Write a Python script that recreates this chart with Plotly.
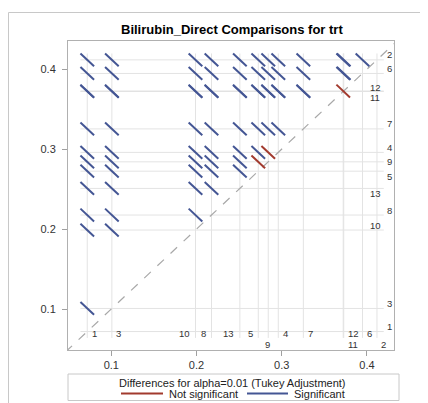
import plotly.graph_objects as go

# LS-means per trt level (sorted by mean)
groups = ['1', '3', '10', '8', '13', '5', '9', '4', '7', '11', '12', '6', '2']
lsmeans = [0.0718, 0.1007, 0.1988, 0.2176, 0.2509, 0.2725, 0.2842, 0.2960,
           0.3254, 0.3722, 0.3728, 0.3948, 0.4118]
ci_width = 0.016          # width of the Tukey interval for a difference
not_significant = [('11', '12'), ('5', '9'), ('9', '4')]

BLUE = '#445694'
RED = '#a23a2e'
FONT = 'Liberation Sans, Arial, sans-serif'

# page puts the figure 8px in from the top-left corner
OFF = 8
W, H = 428 - OFF, 403 - OFF
# pixel frame of the plot area, in window pixels
L, R, T, B = 68, 394, 41, 350


def paper_x(px):
    return (px - L) / (R - L)


def paper_y(py):
    return (B - py) / (B - T)


h = ci_width / 2
mean_of = dict(zip(groups, lsmeans))

sig_x, sig_y, ns_x, ns_y = [], [], [], []
for i in range(len(groups)):
    for j in range(i + 1, len(groups)):
        lo, hi = lsmeans[i], lsmeans[j]
        xs = [lo - h, lo + h, None]
        ys = [hi + h, hi - h, None]
        pair = (groups[i], groups[j])
        if pair in not_significant or pair[::-1] in not_significant:
            ns_x += xs
            ns_y += ys
        else:
            sig_x += xs
            sig_y += ys

fig = go.Figure()

# reference lines at each mean
lo_ref, hi_ref = min(lsmeans) - h, max(lsmeans) + h
for m in lsmeans:
    fig.add_shape(type='line', xref='x', yref='y', x0=m, x1=m, y0=lo_ref, y1=hi_ref,
                  line=dict(color='#e3e3e3', width=1), layer='below')
    fig.add_shape(type='line', xref='x', yref='y', x0=lo_ref, x1=hi_ref, y0=m, y1=m,
                  line=dict(color='#e3e3e3', width=1), layer='below')

# diagonal y = x
fig.add_trace(go.Scatter(x=[0, 1], y=[0, 1], mode='lines', hoverinfo='skip',
                         line=dict(color='#a8a8a8', width=1.2, dash='dash'),
                         showlegend=False))

fig.add_trace(go.Scatter(x=sig_x, y=sig_y, mode='lines', name='Significant',
                         line=dict(color=BLUE, width=2), showlegend=False))
fig.add_trace(go.Scatter(x=ns_x, y=ns_y, mode='lines', name='Not significant',
                         line=dict(color=RED, width=2), showlegend=False))

# labels along the bottom: side of the reference line and row
bottom_pos = {'1': ('r', 1), '3': ('r', 1), '10': ('l', 1), '8': ('l', 1),
              '13': ('l', 1), '5': ('l', 1), '9': ('c', 2), '4': ('r', 1),
              '7': ('r', 1), '12': ('r', 1), '11': ('r', 2), '6': ('r', 1),
              '2': ('r', 2)}
row_y = {1: paper_y(333.5), 2: paper_y(344.7)}
for g in groups:
    side, row = bottom_pos[g]
    anchor = {'r': 'left', 'l': 'right', 'c': 'center'}[side]
    shift = {'r': 2.5, 'l': -3.5, 'c': -1}[side]
    fig.add_annotation(x=mean_of[g], y=row_y[row], xref='x', yref='paper', text=g,
                       showarrow=False, xanchor=anchor, yanchor='middle', xshift=shift,
                       font=dict(size=9.5, color='#333333', family=FONT))

# labels along the right side
right_shift = {'2': 5.7, '6': 5, '12': 4, '11': -6, '7': 5, '4': 5, '9': 0,
               '5': -5, '13': -5, '8': 5, '10': 5, '3': 5, '1': 5}
for g in groups:
    px = 389 if len(g) == 1 else 375
    fig.add_annotation(x=paper_x(px), y=mean_of[g], xref='paper', yref='y', text=g,
                       showarrow=False, xanchor='center', yanchor='middle',
                       yshift=right_shift[g],
                       font=dict(size=9.5, color='#333333', family=FONT))

# title
fig.add_annotation(x=paper_x(232), y=paper_y(29), xref='paper', yref='paper',
                   text='<b>Bilirubin_Direct Comparisons for trt</b>', showarrow=False,
                   xanchor='center', yanchor='middle',
                   font=dict(size=13, color='#000000', family=FONT))

# outer graph border
fig.add_shape(type='rect', xref='paper', yref='paper', x0=paper_x(8.5), x1=paper_x(440),
              y0=paper_y(420), y1=paper_y(12.5), line=dict(color='#c8c8c8', width=1))

# legend box drawn by hand
fig.add_shape(type='rect', xref='paper', yref='paper', x0=paper_x(68), x1=paper_x(399),
              y0=paper_y(400.5), y1=paper_y(374), line=dict(color='#c8c8c8', width=1))
fig.add_annotation(x=paper_x(232), y=paper_y(382.5), xref='paper', yref='paper',
                   text='Differences for alpha=0.01 (Tukey Adjustment)', showarrow=False,
                   xanchor='center', yanchor='middle',
                   font=dict(size=11, color='#222222', family=FONT))
fig.add_shape(type='line', xref='paper', yref='paper', x0=paper_x(121), x1=paper_x(163),
              y0=paper_y(393.5), y1=paper_y(393.5), line=dict(color=RED, width=2))
fig.add_annotation(x=paper_x(167), y=paper_y(393.5), xref='paper', yref='paper',
                   text='Not significant', showarrow=False, xanchor='left', yanchor='middle',
                   font=dict(size=11, color='#222222', family=FONT))
fig.add_shape(type='line', xref='paper', yref='paper', x0=paper_x(247), x1=paper_x(288),
              y0=paper_y(393.5), y1=paper_y(393.5), line=dict(color=BLUE, width=2))
fig.add_annotation(x=paper_x(292), y=paper_y(393.5), xref='paper', yref='paper',
                   text='Significant', showarrow=False, xanchor='left', yanchor='middle',
                   font=dict(size=11, color='#222222', family=FONT))

axis_style = dict(showgrid=False, zeroline=False, showline=True, mirror=True,
                  linecolor='#b0b0b0', linewidth=1, ticks='outside', ticklen=5,
                  tickcolor='#a0a0a0', tickvals=[0.1, 0.2, 0.3, 0.4],
                  ticktext=['0.1', '0.2', '0.3', '0.4'],
                  tickfont=dict(size=11, color='#333333', family=FONT))

fig.update_layout(
    width=W, height=H,
    margin=dict(l=L - OFF, r=428 - R, t=T - OFF, b=403 - B),
    plot_bgcolor='white', paper_bgcolor='white',
    xaxis=dict(range=[0.0492, 0.4318], **axis_style),
    yaxis=dict(range=[0.0487, 0.4354], ticklabelstandoff=4, **axis_style),
    showlegend=False,
)

fig.write_html('out.html')
